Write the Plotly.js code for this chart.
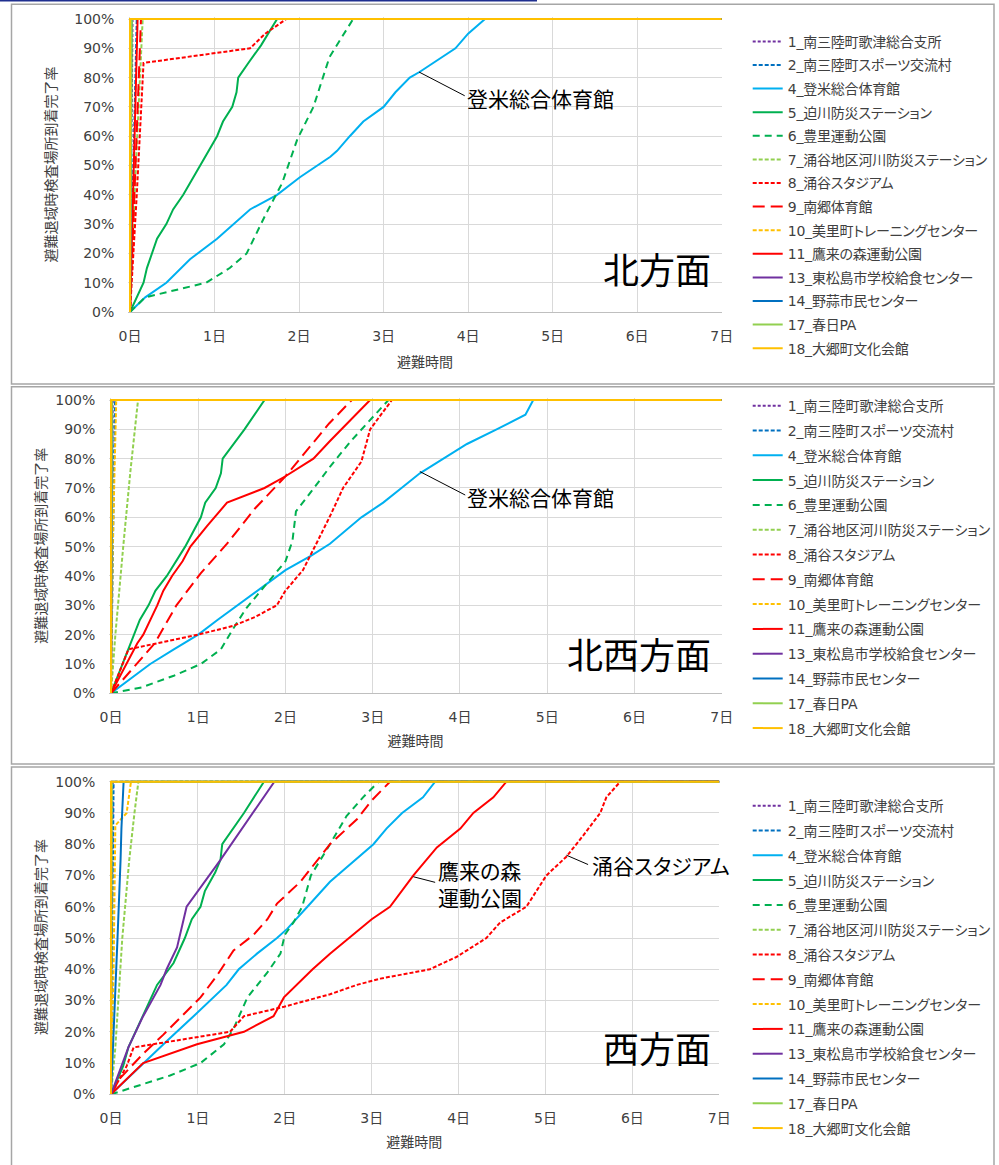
<!DOCTYPE html>
<html>
<head>
<meta charset="utf-8">
<script src="https://cdn.plot.ly/plotly-3.0.1.min.js"></script>
<style>
  html, body { margin: 0; padding: 0; background: #ffffff; }
  #chart { width: 999px; height: 1165px; }
  /* proportional kana widths, as in the Japanese UI fonts */
  #chart text { font-feature-settings: "palt" 1; }
  #chart text.legendtext { letter-spacing: -0.2px; }
</style>
</head>
<body>
<div id="chart"></div>
<script>
// ---- series names (legend order) ----
const stations = [
  '1_南三陸町歌津総合支所',
  '2_南三陸町スポーツ交流村',
  '4_登米総合体育館',
  '5_迫川防災ステーション',
  '6_豊里運動公園',
  '7_涌谷地区河川防災ステーション',
  '8_涌谷スタジアム',
  '9_南郷体育館',
  '10_美里町トレーニングセンター',
  '11_鷹来の森運動公園',
  '13_東松島市学校給食センター',
  '14_野蒜市民センター',
  '17_春日PA',
  '18_大郷町文化会館'
];

const panelNames = ['北方面', '北西方面', '西方面'];
const dayTicks = [0, 1, 2, 3, 4, 5, 6, 7];
const rateTicks = [0, 10, 20, 30, 40, 50, 60, 70, 80, 90, 100];

// ---- 北方面: elapsed days / completion rate (%) per station ----
const northDays = [
  [0, 0.03, 7],
  [0, 0.08, 7],
  [0, 0.18, 0.43, 0.71, 1.03, 1.22, 1.42, 1.74, 2.01, 2.37, 2.45, 2.6, 2.76, 3.0, 3.14, 3.31, 3.43, 3.85, 4.0, 4.2, 7],
  [0, 0.16, 0.2, 0.32, 0.43, 0.51, 0.63, 0.83, 1.03, 1.1, 1.21, 1.26, 1.28, 1.4, 1.55, 1.74, 7],
  [0, 0.18, 0.9, 1.18, 1.38, 1.6, 1.8, 1.98, 2.17, 2.36, 2.64, 7],
  [0, 0.07, 0.15, 7],
  [0, 0.08, 0.16, 1.42, 1.6, 1.85, 7],
  [0, 0.13, 7],
  [0, 0.02, 7],
  [0, 0.09, 7],
  [0, 0.01, 7],
  [0, 0.02, 7],
  [0, 0.02, 7],
  [0, 0, 7]
];
const northRate = [
  [0, 100, 100],
  [0, 100, 100],
  [0, 5, 10, 18, 25, 30, 35, 40, 46, 53, 55, 60, 65, 70, 75, 80, 82, 90, 95, 100, 100],
  [0, 10, 15, 25, 30, 35, 40, 50, 60, 65, 70, 75, 80, 85, 91, 100, 100],
  [0, 5, 10, 15, 20, 33, 44, 59, 70, 87, 100, 100],
  [0, 50, 100, 100],
  [0, 40, 85, 90, 95, 100, 100],
  [0, 100, 100],
  [0, 100, 100],
  [0, 100, 100],
  [0, 100, 100],
  [0, 100, 100],
  [0, 100, 100],
  [0, 100, 100]
];

// ---- 北西方面 ----
const northwestDays = [
  [0, 0.02, 7],
  [0, 0.045, 7],
  [0, 0.45, 0.72, 1.0, 1.22, 1.45, 1.76, 2.0, 2.3, 2.51, 2.87, 3.12, 3.33, 3.54, 3.81, 4.08, 4.42, 4.75, 4.84, 7],
  [0, 0.2, 0.33, 0.43, 0.51, 0.64, 0.85, 1.03, 1.08, 1.2, 1.26, 1.28, 1.53, 1.76, 7],
  [0, 0.35, 0.72, 1.03, 1.26, 1.4, 1.55, 1.8, 2.0, 2.08, 2.12, 2.25, 2.53, 2.75, 2.9, 3.18, 7],
  [0, 0.05, 0.14, 0.22, 0.31, 7],
  [0, 0.2, 1.0, 1.4, 1.65, 1.9, 2.0, 2.2, 2.37, 2.52, 2.66, 2.87, 2.97, 3.1, 3.22, 7],
  [0, 0.15, 0.35, 0.5, 0.75, 1.03, 1.33, 1.65, 2.0, 2.5, 2.76, 7],
  [0, 0.02, 0.06, 7],
  [0, 0.18, 0.3, 0.37, 0.45, 0.53, 0.6, 0.7, 0.82, 0.91, 1.1, 1.33, 1.76, 2.0, 2.32, 2.51, 2.97, 7],
  [0, 0.01, 7],
  [0, 0.01, 7],
  [0, 0.01, 7],
  [0, 0, 7]
];
const northwestRate = [
  [0, 100, 100],
  [0, 100, 100],
  [0, 10, 15, 20, 25, 30, 37, 42, 47, 51, 60, 65, 70, 75, 80, 85, 90, 95, 100, 100],
  [0, 15, 25, 30, 35, 40, 50, 60, 65, 70, 75, 80, 90, 100, 100],
  [0, 2, 6, 10, 15, 22, 29, 38, 45, 52, 62, 67, 78, 86, 91, 100, 100],
  [0, 20, 50, 75, 100, 100],
  [0, 15, 20, 23, 26, 30, 35, 42, 52, 61, 70, 79, 90, 95, 100, 100],
  [0, 5, 12, 17, 30, 41, 51, 63, 74, 92, 100, 100],
  [0, 50, 100, 100],
  [0, 10, 17, 20, 25, 30, 35, 40, 45, 50, 57, 65, 70, 74, 80, 86, 100, 100],
  [0, 100, 100],
  [0, 100, 100],
  [0, 100, 100],
  [0, 100, 100]
];

// ---- 西方面 ----
const westDays = [
  [0, 0.02, 7],
  [0, 0.03, 7],
  [0, 0.37, 0.64, 0.95, 1.18, 1.33, 1.47, 1.68, 1.91, 2.03, 2.26, 2.52, 3.02, 3.17, 3.35, 3.59, 3.73, 7],
  [0, 0.14, 0.2, 0.35, 0.53, 0.72, 0.85, 0.93, 1.03, 1.08, 1.2, 1.26, 1.28, 1.53, 1.76, 7],
  [0, 0.33, 0.68, 1.03, 1.3, 1.41, 1.57, 1.8, 1.95, 2.0, 2.1, 2.2, 2.3, 2.52, 2.71, 2.9, 3.08, 7],
  [0, 0.05, 0.13, 0.21, 0.27, 0.315, 7],
  [0, 0.1, 0.18, 0.26, 1.37, 1.53, 1.99, 2.52, 2.83, 3.1, 3.67, 3.98, 4.32, 4.48, 4.78, 5.01, 5.24, 5.44, 5.63, 5.7, 5.86, 7],
  [0, 0.1, 0.37, 0.6, 1.03, 1.22, 1.41, 1.64, 1.8, 1.91, 2.18, 2.52, 2.83, 3.0, 3.21, 7],
  [0, 0.03, 0.05, 0.18, 0.23, 7],
  [0, 0.37, 0.99, 1.53, 1.87, 1.99, 2.32, 2.52, 3.0, 3.21, 3.48, 3.75, 4.02, 4.17, 4.4, 4.55, 7],
  [0, 0.2, 0.37, 0.57, 0.64, 0.76, 0.87, 1.26, 1.88, 7],
  [0, 0.04, 0.075, 0.11, 0.12, 0.145, 7],
  [0, 0.01, 7],
  [0, 0, 7]
];
const westRate = [
  [0, 100, 100],
  [0, 100, 100],
  [0, 10, 17, 25, 31, 35, 40, 45, 50, 53, 60, 68, 80, 85, 90, 95, 100, 100],
  [0, 9, 15, 24, 35, 42, 50, 56, 60, 65, 71, 75, 80, 90, 100, 100],
  [0, 3, 6, 10, 16, 21, 31, 39, 45, 51, 55, 60, 70, 80, 89, 95, 100, 100],
  [0, 15, 50, 75, 90, 100, 100],
  [0, 5, 9, 15, 20, 25, 28, 32, 35, 37, 40, 44, 50, 55, 60, 70, 76, 83, 90, 95, 100, 100],
  [0, 5, 13, 19, 31, 38, 46, 51, 56, 61, 68, 80, 88, 94, 100, 100],
  [0, 40, 86, 90, 100, 100],
  [0, 10, 16, 20, 25, 31, 40, 45, 56, 60, 70, 79, 85, 90, 95, 100, 100],
  [0, 15, 25, 35, 40, 47, 60, 75, 100, 100],
  [0, 25, 50, 75, 85, 100, 100],
  [0, 100, 100],
  [0, 100, 100]
];

// ---- line styles per station ----
const lineColors = ['#7030A0', '#0070C0', '#00B0F0', '#00B050', '#00B050', '#92D050', '#FF0000',
                    '#FF0000', '#FFC000', '#FF0000', '#7030A0', '#0070C0', '#92D050', '#FFC000'];
const lineDashes = ['3px,2px', '4px,2px', 'solid', 'solid', '7px,5px', '4px,2px', '4px,2px',
                    '12px,6px', '4px,2px', 'solid', 'solid', 'solid', 'solid', 'solid'];

// ---- page geometry (pixels) ----
const W = 999, H = 1165;
const px = v => v / W;
const py = v => 1 - v / H;

const latinFont = 'DejaVu Sans, "Noto Sans CJK JP", sans-serif';
const jpFont = '"Noto Sans CJK JP", sans-serif';
const textGray = '#404040';

// plot-area placement of each panel: left (0日), right (7日), bottom (0%), top (100%)
const frames = [
  { left: 130, right: 721.7, bottom: 312,    top: 19,    box: [11.5, 4.3, 994, 384],  legendTop: 25.8,  gap: 2.4, ytStand: 14, xtStand: 14 },
  { left: 111, right: 721.7, bottom: 693.3,  top: 400,   box: [11.5, 386.7, 994, 764], legendTop: 390.1, gap: 3.6, ytStand: 5,  xtStand: 12 },
  { left: 111, right: 719.3, bottom: 1094.3, top: 781.7, box: [11.5, 767, 994, 1172],  legendTop: 790.1, gap: 3.6, ytStand: 5,  xtStand: 12 }
];
const panelDays = [northDays, northwestDays, westDays];
const panelRate = [northRate, northwestRate, westRate];

const xPad = 0.02;   // days shown left of 0 so the x=0 line is not clipped
const yPad = 0.6;    // percent shown above 100 so the 100% line is not clipped

const traces = [];
const layout = {
  width: W, height: H,
  // fixed page layout: the legends must not shrink the plot areas
  margin: { l: 0, r: 0, t: 0, b: 0, autoexpand: false },
  paper_bgcolor: '#ffffff',
  plot_bgcolor: '#ffffff',
  showlegend: true,
  shapes: [],
  annotations: []
};

frames.forEach((f, k) => {
  const sfx = k === 0 ? '' : String(k + 1);
  const dayPx = (f.right - f.left) / 7;
  const pctPx = (f.bottom - f.top) / 100;
  const legendKey = 'legend' + sfx;

  stations.forEach((name, i) => {
    traces.push({
      type: 'scatter', mode: 'lines',
      x: panelDays[k][i], y: panelRate[k][i],
      xaxis: 'x' + sfx, yaxis: 'y' + sfx,
      name: name,
      legend: legendKey,
      legendgroup: 'p' + k + '_' + i,
      line: { color: lineColors[i], width: 2, dash: lineDashes[i] },
      hoverinfo: 'x+y+name'
    });
  });

  layout['xaxis' + sfx] = {
    domain: [px(f.left - xPad * dayPx), px(f.right)],
    range: [-xPad, 7],
    anchor: 'y' + sfx,
    tickmode: 'array', tickvals: dayTicks, ticktext: dayTicks.map(d => d + '日'),
    ticks: '', ticklabelstandoff: 11,
    tickfont: { family: latinFont, size: 14, color: textGray },
    showgrid: true, gridcolor: '#D9D9D9', gridwidth: 1,
    zeroline: false,
    showline: true, linecolor: '#BFBFBF', linewidth: 1,
    fixedrange: true,
    title: { text: '避難時間', font: { family: jpFont, size: 14, color: textGray }, standoff: f.xtStand }
  };
  layout['yaxis' + sfx] = {
    domain: [py(f.bottom), py(f.top - yPad * pctPx)],
    range: [0, 100 + yPad],
    anchor: 'x' + sfx,
    tickmode: 'array', tickvals: rateTicks, ticktext: rateTicks.map(r => r + '%'),
    ticks: '', ticklabelstandoff: 13,
    tickfont: { family: latinFont, size: 14, color: textGray },
    showgrid: true, gridcolor: '#D9D9D9', gridwidth: 1,
    zeroline: false, showline: false,
    fixedrange: true,
    title: { text: '避難退域時検査場所到着完了率', font: { family: jpFont, size: 14, color: textGray }, standoff: f.ytStand }
  };
  layout[legendKey] = {
    x: px(747.7), xanchor: 'left',
    y: py(f.legendTop), yanchor: 'top',
    bgcolor: 'rgba(0,0,0,0)',
    font: { family: latinFont, size: 14, color: textGray },
    traceorder: 'grouped',
    tracegroupgap: f.gap,
    itemclick: false, itemdoubleclick: false
  };

  // panel frame
  layout.shapes.push({
    type: 'rect', xref: 'paper', yref: 'paper', layer: 'below',
    x0: px(f.box[0]), x1: px(f.box[2]), y0: py(f.box[1]), y1: py(f.box[3]),
    line: { color: '#A6A6A6', width: 1.5 }, fillcolor: 'rgba(0,0,0,0)'
  });

  // direction label in the lower right of the plot
  layout.annotations.push({
    xref: 'x' + sfx, yref: 'y' + sfx,
    x: 7 - (f.right - 713) / dayPx, y: k === 1 ? 13.7 : 15,
    xanchor: 'right', yanchor: 'middle',
    text: panelNames[k], showarrow: false,
    font: { family: jpFont, size: 36, color: '#000000' }
  });
});

// callout labels with leader lines: [panel, text, lineStart(day,%), lineEnd(day,%), textLeft(day), textMid(%)]
const callouts = [
  [0, '登米総合体育館', [3.42, 81.9], [3.96, 73.8], 3.96, 73.0],
  [1, '登米総合体育館', [3.54, 75.6], [4.06, 67.6], 4.06, 67.0],
  [2, '鷹来の森<br>運動公園', [3.48, 69.6], [3.73, 67.8], 3.74, 67.3],
  [2, '涌谷スタジアム', [5.24, 76.5], [5.49, 73.5], 5.51, 73.3]
];
callouts.forEach(c => {
  const sfx = c[0] === 0 ? '' : String(c[0] + 1);
  layout.shapes.push({
    type: 'line', xref: 'x' + sfx, yref: 'y' + sfx,
    x0: c[2][0], y0: c[2][1], x1: c[3][0], y1: c[3][1],
    line: { color: '#000000', width: 1 }
  });
  layout.annotations.push({
    xref: 'x' + sfx, yref: 'y' + sfx,
    x: c[4], y: c[5], xanchor: 'left', yanchor: 'middle', align: 'left',
    text: c[1], showarrow: false,
    font: { family: jpFont, size: 21, color: '#000000' }
  });
});

// thin navy rule along the top edge of the page
layout.shapes.push({
  type: 'line', xref: 'paper', yref: 'paper',
  x0: 0, x1: px(537), y0: py(0.8), y1: py(0.8),
  line: { color: '#1F2F8F', width: 1.6 }
});

Plotly.newPlot('chart', traces, layout, { displayModeBar: false, staticPlot: true });
</script>
</body>
</html>
